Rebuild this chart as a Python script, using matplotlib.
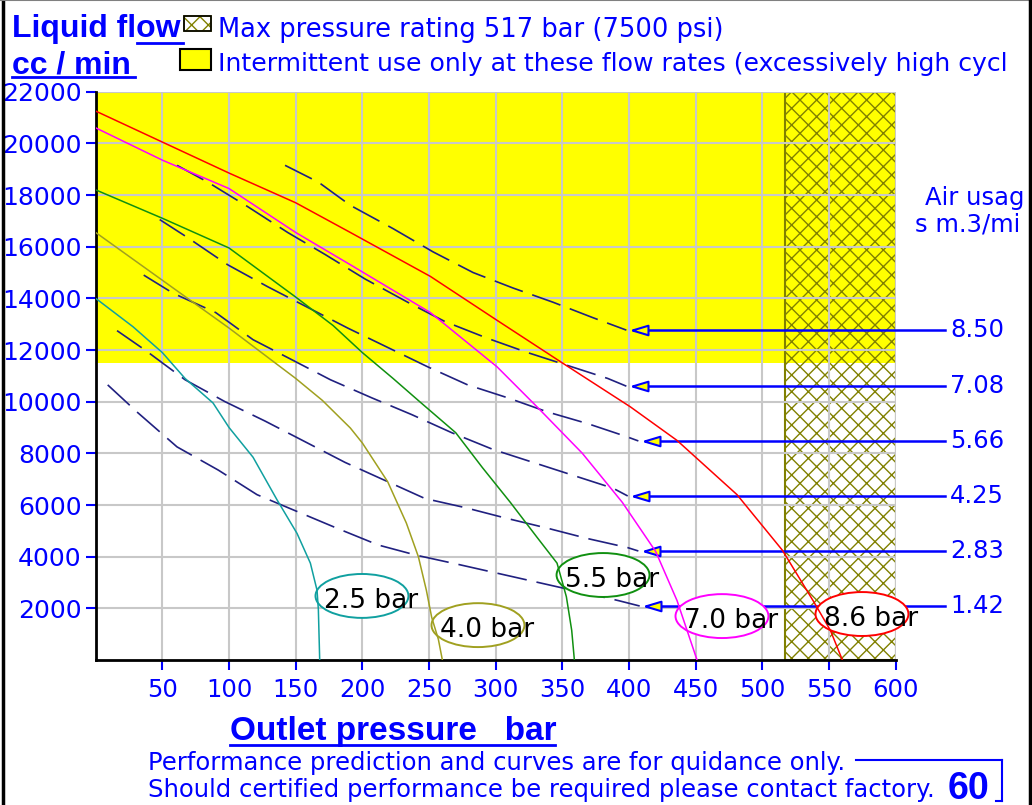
import numpy as np
import matplotlib.pyplot as plt
from matplotlib.patches import Ellipse, Rectangle
from matplotlib.lines import Line2D

# pump curves: outlet pressure (bar) -> liquid flow (cc/min), one per air drive pressure
p25_x = [0, 28, 50, 67, 88, 100, 118, 136, 151, 161, 166, 167, 168]
p25_y = [14000, 12900, 11900, 10900, 9950, 9000, 7850, 6200, 4900, 3750, 2700, 1950, 0]
p40_x = [0, 50, 100, 150, 170, 191, 200, 219, 233, 242, 248, 252, 257, 260]
p40_y = [16550, 14700, 12850, 10900, 10050, 8980, 8400, 6900, 5300, 4000, 2700, 1650, 800, 0]
p55_x = [0, 50, 100, 150, 178, 200, 223, 243, 270, 290, 311, 331, 346, 353, 357, 359]
p55_y = [18200, 17100, 15950, 14050, 12950, 11900, 10900, 10000, 8800, 7450, 6100, 4750, 3750, 2450, 1150, 0]
p70_x = [0, 50, 100, 150, 191, 251, 301, 331, 365, 395, 420, 436, 451]
p70_y = [20600, 19350, 18250, 16550, 15300, 13450, 11350, 9800, 8000, 6100, 4200, 2300, 0]
p86_x = [0, 50, 100, 150, 191, 251, 301, 350, 401, 436, 481, 515, 538, 551, 560]
p86_y = [21250, 20050, 18850, 17700, 16550, 14850, 13150, 11500, 9800, 8500, 6400, 4250, 2300, 1150, 0]
pump_labels = ['2.5 bar', '4.0 bar', '5.5 bar', '7.0 bar', '8.6 bar']
pump_colors = ['#10a0a0', '#a0a020', '#109010', '#ff00ff', '#ff0000']

# air usage curves (m3/min)
a850_x = [142, 167, 191, 223, 253, 283, 313, 343, 373, 398]
a850_y = [19150, 18500, 17600, 16700, 15800, 15000, 14400, 13850, 13250, 12770]
a708_x = [61, 84, 114, 144, 172, 202, 234, 262, 294, 324, 354, 384, 398]
a708_y = [19150, 18500, 17550, 16550, 15700, 14750, 13850, 13100, 12450, 11900, 11400, 10900, 10600]
a566_x = [48, 69, 99, 129, 159, 189, 219, 249, 279, 309, 339, 369, 398, 407]
a566_y = [17050, 16350, 15300, 14450, 13650, 12850, 12100, 11350, 10650, 10150, 9600, 9150, 8650, 8480]
a425_x = [36, 58, 90, 118, 148, 176, 207, 237, 267, 298, 328, 358, 388, 399]
a425_y = [14900, 14200, 13450, 12400, 11600, 10850, 10150, 9500, 8800, 8150, 7650, 7150, 6650, 6350]
a283_x = [16, 37, 67, 97, 127, 157, 187, 217, 247, 277, 307, 339, 369, 399, 407]
a283_y = [12750, 12000, 10850, 10000, 9250, 8450, 7650, 6950, 6250, 5900, 5500, 5100, 4700, 4350, 4220]
a142_x = [9, 31, 61, 92, 121, 151, 181, 212, 241, 272, 302, 332, 362, 392, 408]
a142_y = [10650, 9600, 8250, 7350, 6400, 5750, 5100, 4450, 4050, 3700, 3350, 3000, 2650, 2300, 2090]
air_labels = ['8.50', '7.08', '5.66', '4.25', '2.83', '1.42']

max_pressure = 517
intermittent_flow = 11500
x_ticks = [50, 100, 150, 200, 250, 300, 350, 400, 450, 500, 550, 600]
y_ticks = [2000, 4000, 6000, 8000, 10000, 12000, 14000, 16000, 18000, 20000, 22000]

BLUE = '#0000ff'
NAVY = '#202080'
OLIVE = '#808000'
W, H = 1032, 805

plt.rcParams['hatch.linewidth'] = 1.0
fig = plt.figure(figsize=(W / 100, H / 100), dpi=100)
ax = fig.add_axes([95.7 / W, 1 - 660 / H, 800 / W, 568.3 / H])
ax.set_xlim(0, 600)
ax.set_ylim(0, 22000)

# background zones
ax.axhspan(intermittent_flow, 22000, color='#ffff00', lw=0, zorder=0.2)
ax.add_patch(Rectangle((max_pressure, 0), 600 - max_pressure, 22000, facecolor='none',
                       edgecolor=OLIVE, hatch='xx', lw=1.5, zorder=0.3))

ax.set_axisbelow(True)
ax.grid(True, color='#c8c8c8', lw=1.5)
ax.set_xticks(x_ticks)
ax.set_yticks(y_ticks)
ax.tick_params(axis='both', direction='out', length=7, width=1.5, color=BLUE, labelcolor=BLUE)
ax.tick_params(axis='x', labelsize=17.5, pad=6)
ax.tick_params(axis='y', labelsize=18, pad=3)
for s in ['top', 'right']:
    ax.spines[s].set_visible(False)
for s in ['left', 'bottom']:
    ax.spines[s].set_linewidth(2)
    ax.spines[s].set_color('black')

# air usage lines
air_x = [a850_x, a708_x, a566_x, a425_x, a283_x, a142_x]
air_y = [a850_y, a708_y, a566_y, a425_y, a283_y, a142_y]
tri = [(-1, 0), (1, 0.6), (1, -0.6), (-1, 0)]
for xs, ys, lab in zip(air_x, air_y, air_labels):
    ax.plot(xs, ys, color=NAVY, lw=1.2, dashes=(18, 6), zorder=2.5)
    tip = xs[-1] + 4
    ax.plot([tip + 11, 637], [ys[-1], ys[-1]], color=BLUE, lw=1.8, clip_on=False, zorder=2)
    ax.plot(tip + 6, ys[-1], marker=tri, ms=11.5, mfc='#ffff00', mec=BLUE, mew=1.5,
            clip_on=False, zorder=3)
    ax.text(641, ys[-1], lab, color=BLUE, fontsize=17.5, va='center', ha='left')

# pump curves and their labels
pump_x = [p25_x, p40_x, p55_x, p70_x, p86_x]
pump_y = [p25_y, p40_y, p55_y, p70_y, p86_y]
ell_x = [199.7, 286.7, 380.5, 469.7, 574.7]
ell_y = [2480, 1350, 3290, 1700, 1780]
for xs, ys, c in zip(pump_x, pump_y, pump_colors):
    ax.plot(xs, ys, color=c, lw=1.1, zorder=4)
for ex, ey, lab, c in zip(ell_x, ell_y, pump_labels, pump_colors):
    ax.add_patch(Ellipse((ex, ey), 69.7, 1700, facecolor='white', edgecolor=c, lw=1.4,
                         zorder=3, clip_on=False))
    ax.text(ex + 7, ey - 180, lab, color='black', fontsize=19, ha='center', va='center',
            zorder=5, clip_on=False)


def ftxt(x, y, s, **kw):
    fig.text(x / W, 1 - y / H, s, **kw)


def fline(x0, y0, x1, y1, **kw):
    fig.add_artist(Line2D([x0 / W, x1 / W], [1 - y0 / H, 1 - y1 / H], transform=fig.transFigure, **kw))


bold = dict(family='Liberation Sans', weight='bold', color=BLUE)

# header
ftxt(12, 37, 'Liquid flow', fontsize=23, **bold)
ftxt(12, 74, 'cc / min', fontsize=23, **bold)
fline(137, 43, 183, 43, color=BLUE, lw=2)
fline(12, 77, 135, 77, color=BLUE, lw=2)
fig.add_artist(Rectangle((184 / W, 1 - 31 / H), 27 / W, 15 / H, transform=fig.transFigure,
                         facecolor='white', edgecolor=OLIVE, hatch='xx', lw=1.2))
fig.add_artist(Rectangle((184 / W, 1 - 31 / H), 27 / W, 15 / H, transform=fig.transFigure,
                         facecolor='none', edgecolor='black', lw=1.2))
fig.add_artist(Rectangle((180 / W, 1 - 70 / H), 31 / W, 21 / H, transform=fig.transFigure,
                         facecolor='#ffff00', edgecolor='black', lw=1.5))
ftxt(218, 37, 'Max pressure rating 517 bar (7500 psi)', fontsize=18.5, color=BLUE)
ftxt(218, 71, 'Intermittent use only at these flow rates (excessively high cycl',
     fontsize=18.1, color=BLUE)
ftxt(925, 205, 'Air usag', fontsize=17.5, color=BLUE)
ftxt(915, 231, 's m.3/mi', fontsize=17.5, color=BLUE)

# footer
ftxt(230, 740, 'Outlet pressure   bar', fontsize=24, **bold)
fline(230, 745, 555, 745, color=BLUE, lw=2)
ftxt(148, 770, 'Performance prediction and curves are for quidance only.', fontsize=17.5, color=BLUE)
ftxt(148, 797, 'Should certified performance be required please contact factory.', fontsize=17.5,
     color=BLUE)
ftxt(948, 799, '60', fontsize=27, **bold)
fline(856, 760, 1002, 760, color=BLUE, lw=1.5)
fline(1002, 760, 1002, 801, color=BLUE, lw=1.5)
fline(996, 801, 1002, 801, color=BLUE, lw=1.5)

# frame
fline(2.5, 0, 2.5, H, color='black', lw=2.5)
fline(0, 0.5, W, 0.5, color='#808080', lw=1.5)
fline(1029.5, 0, 1029.5, H, color='black', lw=2.5)

fig.savefig('out.png', dpi=100)
